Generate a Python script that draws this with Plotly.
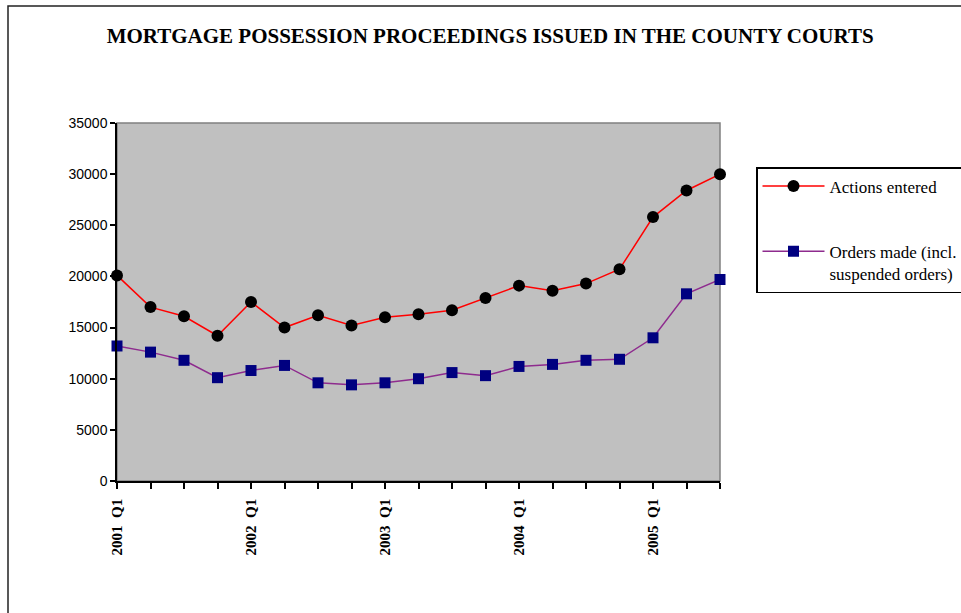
import plotly.graph_objects as go

# Quarterly county court statistics, 2001 Q1 - 2005 Q3
quarters = [
    "2001 Q1", "2001 Q2", "2001 Q3", "2001 Q4",
    "2002 Q1", "2002 Q2", "2002 Q3", "2002 Q4",
    "2003 Q1", "2003 Q2", "2003 Q3", "2003 Q4",
    "2004 Q1", "2004 Q2", "2004 Q3", "2004 Q4",
    "2005 Q1", "2005 Q2", "2005 Q3",
]
actions_entered = [
    20100, 17000, 16100, 14200,
    17500, 15000, 16200, 15200,
    16000, 16300, 16700, 17900,
    19100, 18600, 19300, 20700,
    25800, 28400, 30000,
]
orders_made = [
    13200, 12600, 11800, 10100,
    10800, 11300, 9600, 9400,
    9600, 10000, 10600, 10300,
    11200, 11400, 11800, 11900,
    14000, 18300, 19700,
]
y_ticks = [0, 5000, 10000, 15000, 20000, 25000, 30000, 35000]

title_text = "MORTGAGE POSSESSION PROCEEDINGS ISSUED IN THE COUNTY COURTS"
series_names = ["Actions entered", "Orders made (incl.<br>suspended orders)"]

SERIF = "Liberation Serif, Times New Roman, serif"
SANS = "Liberation Sans, Arial, sans-serif"

W, H = 961, 613
L, R, T, B = 117, 241, 123, 132
plot_w, plot_h = W - L - R, H - T - B


def px_x(px):
    return (px - L) / plot_w


def px_y(py):
    return (H - B - py) / plot_h


fig = go.Figure()

fig.add_trace(go.Scatter(
    x=quarters, y=actions_entered, name=series_names[0],
    mode="lines+markers", cliponaxis=False, legendgroup="a",
    line=dict(color="#FF0000", width=1.5),
    marker=dict(symbol="circle", size=12, color="#000000"),
))
fig.add_trace(go.Scatter(
    x=quarters, y=orders_made, name=series_names[1],
    mode="lines+markers", cliponaxis=False, legendgroup="b",
    line=dict(color="#8E2B8E", width=1.5),
    marker=dict(symbol="square", size=11, color="#000080"),
))

# Labels on every fourth quarter (Q1), ticks on every quarter
tick_text = ["<b>" + q.replace(" ", "  ") + "</b>" if q.endswith("Q1") else "" for q in quarters]

fig.update_layout(
    width=W, height=H,
    margin=dict(l=L, r=R, t=T, b=B, autoexpand=False),
    paper_bgcolor="white",
    plot_bgcolor="#C0C0C0",
    title=dict(
        text="<b>" + title_text + "</b>",
        font=dict(family=SERIF, size=21, color="black"),
        xref="container", x=0.51, xanchor="center",
        yref="container", y=1 - 36 / H, yanchor="middle",
    ),
    xaxis=dict(
        type="category", categoryorder="array", categoryarray=quarters,
        range=[0, len(quarters) - 1],
        tickmode="array", tickvals=quarters, ticktext=tick_text,
        tickangle=-90, ticks="outside", ticklen=6, tickwidth=1.5, tickcolor="black",
        tickfont=dict(family=SERIF, size=15, color="black"),
        ticklabelstandoff=4,
        showline=True, linecolor="black", linewidth=1.5,
        showgrid=False, zeroline=False,
    ),
    xaxis2=dict(
        overlaying="x", anchor="y", range=[0, len(quarters) - 1],
        tickmode="linear", tick0=0, dtick=1,
        ticks="inside", ticklen=6, tickwidth=1.5, tickcolor="black",
        showticklabels=False, showgrid=False, zeroline=False, showline=False,
    ),
    yaxis=dict(
        range=[0, 35000], tickmode="array", tickvals=y_ticks,
        ticktext=[str(v) for v in y_ticks],
        ticks="outside", ticklen=5, tickwidth=1.5, tickcolor="black",
        tickfont=dict(family=SANS, size=14, color="black"),
        showline=True, linecolor="black", linewidth=1.5,
        showgrid=False, zeroline=False,
    ),
    legend=dict(
        x=756 / W, y=1 - 167 / H, xanchor="left", yanchor="top",
        xref="container", yref="container",
        bgcolor="white", bordercolor="black", borderwidth=1.5,
        font=dict(family=SERIF, size=17, color="black"),
        tracegroupgap=40, valign="top", itemwidth=62,
    ),
    showlegend=True,
    shapes=[
        # grey frame of the plotting area (top and right edges)
        dict(type="rect", xref="paper", yref="paper", x0=0, x1=1, y0=0, y1=1,
             line=dict(color="#808080", width=1.5), layer="below"),
        # outer chart frame
        dict(type="rect", xref="paper", yref="paper",
             x0=px_x(8), x1=px_x(W + 20), y0=px_y(H + 20), y1=px_y(6),
             line=dict(color="#222222", width=1.5), layer="below"),
    ],
)

fig.write_html("out.html")
